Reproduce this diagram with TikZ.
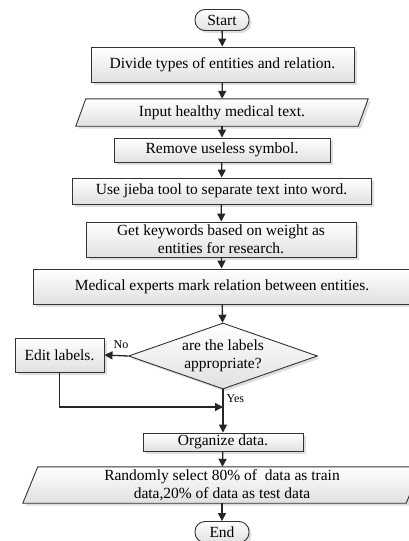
\documentclass[tikz,border=0pt]{standalone}
\usepackage{fontspec}
\setmainfont{Liberation Serif}
\usetikzlibrary{shapes.geometric,shadows,arrows.meta}
\begin{document}
\begin{tikzpicture}[x=1pt,y=-1pt,
  every node/.style={font=\fontsize{15.5}{18}\selectfont, inner sep=0pt},
  boxstyle/.style={draw=black!80, line width=0.9pt, top color=white, bottom color=black!12,
     drop shadow={shadow xshift=2.5pt, shadow yshift=-2.5pt, fill=black!25}},
  procbox/.style={boxstyle, rectangle, align=center},
  termbox/.style={boxstyle, rectangle, rounded corners=10pt, align=center},
  plain/.style={align=center},
  arr/.style={draw=black!85, line width=1.3pt, -{Triangle[width=8pt,length=8pt]}},
  lbl/.style={font=\fontsize{12}{14}\selectfont}
]
\useasboundingbox (0,0) rectangle (409,541);
\fill[white] (0,0) rectangle (409,541);

\node[termbox, minimum width=54, minimum height=21] (start) at (222,20) {Start};
\node[procbox, minimum width=263, minimum height=35] (divide) at (222.5,64.5) {Divide types of entities and relation.};
% parallelogram 1
\node[plain, minimum width=282, minimum height=27] (input) at (222,112.5) {};
\path[boxstyle] ([xshift=5]input.north west) -- ([xshift=5]input.north east) -- ([xshift=-5]input.south east) -- ([xshift=-5]input.south west) -- cycle;
\node[plain] at (input.center) {Input healthy medical text.};
\node[procbox, minimum width=216, minimum height=24] (remove) at (222,150) {Remove useless symbol.};
\node[procbox, minimum width=299, minimum height=26] (jieba) at (221.5,191) {Use jieba tool to separate text into word.};
\node[procbox, minimum width=270, minimum height=35] (keys) at (221,239.5) {Get keywords based on weight as\\entities for research.};
\node[procbox, minimum width=378, minimum height=35] (medical) at (222,286.5) {Medical experts mark relation between entities.};
\node[boxstyle, diamond, minimum width=189, minimum height=66, inner sep=0pt] (dec) at (223,356) {};
\node[plain] at (dec.center) {are the labels\\appropriate?};
\node[procbox, minimum width=89, minimum height=34] (edit) at (59.5,355) {Edit labels.};
\coordinate (join) at (223,407);
\node[procbox, minimum width=160, minimum height=18] (org) at (223,442) {Organize data.};
% parallelogram 2
\node[plain, minimum width=383, minimum height=36] (rand) at (222,485) {};
\path[boxstyle] ([xshift=7.5]rand.north west) -- ([xshift=7.5]rand.north east) -- ([xshift=-7.5]rand.south east) -- ([xshift=-7.5]rand.south west) -- cycle;
\node[plain] at (rand.center) {Randomly select 80\% of \ data as train\\data,20\% of data as test data};
\node[termbox, minimum width=54, minimum height=21] (end) at (222,532) {End};

\draw[arr] (start) -- (divide);
\draw[arr] (divide) -- (input);
\draw[arr] (input) -- (remove);
\draw[arr] (remove) -- (jieba);
\draw[arr] (jieba) -- (keys);
\draw[arr] (keys) -- (medical);
\draw[arr] (medical) -- (dec);
\draw[arr] (dec.west) -- (edit.east) node[lbl, pos=0.3, above=6pt] {No};
\draw[arr] (edit.south) |- (join);
\draw[arr] (dec.south) -- (org.north) node[lbl, pos=0.22, right=3pt] {Yes};
\draw[arr] (org) -- (rand);
\draw[arr] (rand) -- (end);
\end{tikzpicture}
\end{document}
